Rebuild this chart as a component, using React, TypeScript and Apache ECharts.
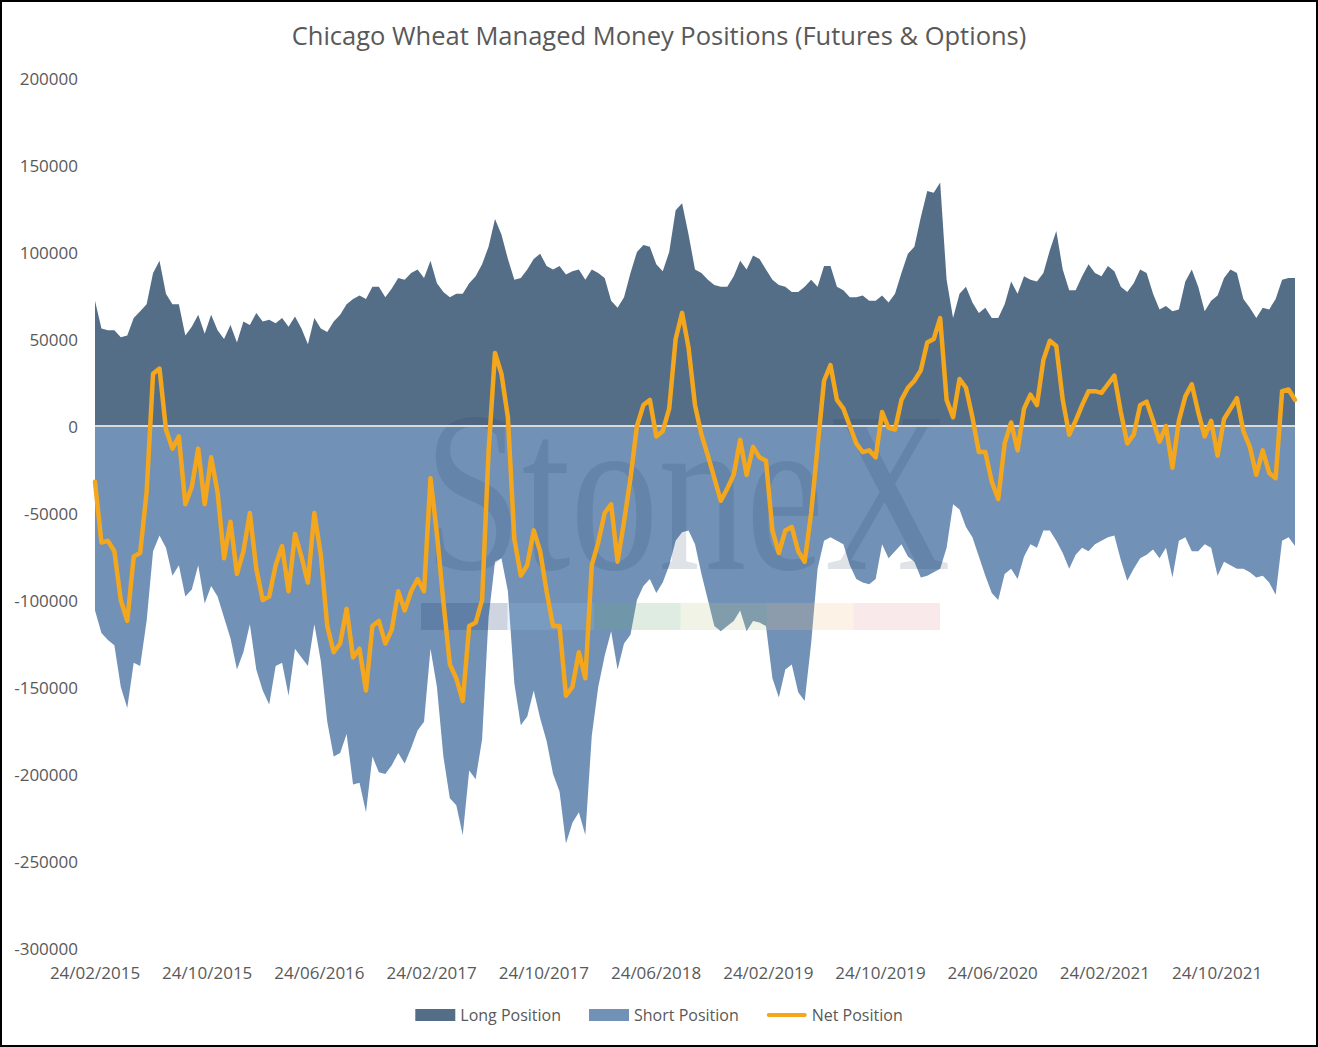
import { useEffect, useRef } from 'react'
import * as echarts from 'echarts'

// Weekly CFTC data sampled every two weeks from 24/02/2015, values in thousands of contracts
const TITLE = 'Chicago Wheat Managed Money Positions (Futures & Options)'
const seriesNames = ['Long Position', 'Short Position', 'Net Position']
const START_YEAR = 2015
const START_MONTH = 2 // February
const LABEL_DAY = '24'
const MONTHS_PER_POINT = 14 / 30.4375
const LABEL_EVERY_MONTHS = 8

const longK = [
  72, 56, 55, 55, 51, 52, 62, 66, 70, 88, 95, 76, 70, 70, 52, 57, 64, 53, 64, 55, 50, 58, 48,
  60, 58, 65, 60, 61, 59, 62, 57, 63, 56, 47, 62, 56, 54, 60, 64, 70, 73, 75, 73, 80, 80, 74, 79,
  85, 84, 88, 90, 85, 95, 82, 77, 74, 76, 76, 82, 86, 93, 103, 119, 110, 96, 84, 85, 90, 96, 99,
  92, 90, 92, 87, 89, 90, 84, 90, 88, 85, 72, 68, 74, 88, 100, 104, 103, 93, 89, 100, 124, 128, 110,
  90, 88, 84, 81, 80, 80, 86, 95, 90, 98, 96, 90, 84, 81, 80, 77, 77, 80, 84, 80, 92, 92, 80,
  78, 74, 74, 75, 72, 72, 75, 71, 76, 88, 99, 103, 120, 135, 134, 140, 84, 62, 76, 80, 71, 65, 68, 62,
  62, 70, 83, 76, 86, 84, 83, 88, 101, 112, 90, 78, 78, 86, 93, 88, 86, 92, 89, 80, 77, 82, 90,
  88, 76, 67, 69, 66, 67, 83, 90, 80, 66, 72, 75, 85, 90, 88, 73, 68, 62, 68, 67, 73, 84, 85, 85,
]

const shortK = [
  -106, -119, -123, -126, -150, -162, -136, -138, -112, -72, -63, -70, -86, -80, -98, -94, -80, -102, -92, -98, -110, -122, -140,
  -130, -114, -140, -152, -160, -138, -136, -155, -128, -133, -138, -114, -135, -170, -190, -188, -177, -206, -205, -222, -190, -199, -200, -195,
  -188, -194, -185, -175, -170, -128, -150, -190, -214, -218, -235, -198, -203, -180, -110, -78, -76, -95, -148, -172, -167, -152, -168,
  -181, -200, -210, -240, -228, -222, -235, -178, -150, -132, -118, -140, -125, -120, -100, -92, -88, -96, -90, -80, -66, -61, -60,
  -68, -85, -100, -115, -118, -115, -112, -106, -118, -112, -113, -115, -145, -156, -140, -137, -153, -158, -125, -82, -66, -64, -66,
  -68, -80, -88, -90, -91, -88, -68, -76, -72, -68, -75, -78, -87, -86, -84, -82, -70, -45, -48, -58, -64, -75, -86, -96,
  -100, -85, -82, -88, -75, -68, -70, -60, -60, -66, -73, -82, -74, -70, -72, -68, -66, -64, -63, -77, -89, -82, -76,
  -74, -71, -76, -70, -87, -66, -64, -72, -72, -68, -70, -86, -78, -80, -82, -82, -84, -87, -86, -90, -97, -66, -64, -69,
]

const netK = [
  -32, -67, -66, -72, -100, -112, -75, -73, -38, 30, 33, -2, -13, -6, -45, -35, -13, -45, -18, -38, -76, -55, -85,
  -72, -50, -82, -100, -98, -80, -69, -95, -62, -75, -90, -50, -74, -115, -130, -125, -105, -133, -128, -152, -115, -112, -125, -117,
  -95, -106, -95, -88, -95, -30, -62, -101, -137, -145, -158, -115, -113, -100, -15, 42, 30, 5, -65, -86, -80, -60, -72,
  -95, -115, -115, -155, -150, -130, -145, -80, -67, -50, -45, -78, -55, -30, 0, 12, 15, -6, -3, 10, 50, 65, 45,
  12, -5, -17, -30, -43, -36, -28, -8, -28, -12, -18, -20, -60, -73, -60, -58, -72, -78, -50, -12, 26, 35, 15,
  10, 0, -10, -15, -14, -18, 8, -1, -2, 15, 22, 26, 32, 48, 50, 62, 15, 5, 27, 22, 5, -15, -15, -32,
  -42, -10, 2, -14, 10, 18, 12, 38, 49, 46, 15, -5, 3, 12, 20, 20, 19, 24, 29, 8, -10, -5, 12,
  14, 3, -9, 0, -24, 3, 17, 24, 8, -6, 3, -17, 4, 10, 16, -3, -12, -28, -14, -27, -30, 20, 21, 15,
]

// faint StoneX watermark colour bar
const stripeColors = ['#1f3f70', '#9cbfe3', '#6aa77c', '#b9c98a', '#f2c58a', '#e79aa3']

const toPoints = (arr: number[]) => arr.map((v, i) => [i * MONTHS_PER_POINT, v * 1000])

const monthLabel = (m: number) => {
  const t = START_MONTH - 1 + Math.round(m)
  const year = START_YEAR + Math.floor(t / 12)
  const month = (t % 12) + 1
  return `${LABEL_DAY}/${month.toString().padStart(2, '0')}/${year}`
}

const FONT = '"Open Sans", "Noto Sans", sans-serif'
const TEXT = '#595959'
const NET_ICON = 'path://M2,0H38A2,2 0 0 1 38,4H2A2,2 0 0 1 2,0Z'

export default function App() {
  const ref = useRef<HTMLDivElement>(null)

  useEffect(() => {
    if (!ref.current) return
    const chart = echarts.init(ref.current, null, { renderer: 'svg' })
    const xMax = (longK.length - 1) * MONTHS_PER_POINT

    chart.setOption({
      animation: false,
      backgroundColor: '#ffffff',
      title: {
        text: TITLE,
        left: 'center',
        top: 17,
        textStyle: { color: TEXT, fontFamily: FONT, fontSize: 25.5, fontWeight: 'normal' },
      },
      grid: { left: 95, right: 23, top: 78, bottom: 99, containLabel: false },
      legend: {
        bottom: 19,
        left: 'center',
        itemWidth: 40,
        itemHeight: 12,
        itemGap: 28,
        textStyle: { color: TEXT, fontFamily: FONT, fontSize: 16 },
        data: [
          { name: seriesNames[0], icon: 'rect' },
          { name: seriesNames[1], icon: 'rect' },
          { name: seriesNames[2], icon: NET_ICON },
        ],
      },
      xAxis: {
        type: 'value',
        min: 0,
        max: xMax,
        interval: LABEL_EVERY_MONTHS,
        axisLine: { show: false, onZero: false },
        axisTick: { show: false },
        splitLine: { show: false },
        axisLabel: {
          color: TEXT,
          fontFamily: FONT,
          fontSize: 17,
          margin: 16,
          showMaxLabel: false,
          formatter: (v: number) => monthLabel(v),
        },
      },
      yAxis: {
        type: 'value',
        min: -300000,
        max: 200000,
        interval: 50000,
        axisLine: { show: false },
        axisTick: { show: false },
        splitLine: { show: false },
        axisLabel: {
          color: TEXT,
          fontFamily: FONT,
          fontSize: 17,
          margin: 17,
          formatter: (v: number) => String(v),
        },
      },
      series: [
        {
          name: seriesNames[0],
          type: 'line',
          data: toPoints(longK),
          symbol: 'none',
          lineStyle: { width: 0 },
          itemStyle: { color: '#546e88' },
          areaStyle: { color: '#546e88', opacity: 1 },
          z: 2,
        },
        {
          name: seriesNames[1],
          type: 'line',
          data: toPoints(shortK),
          symbol: 'none',
          lineStyle: { width: 0 },
          itemStyle: { color: '#7191b6' },
          areaStyle: { color: '#7191b6', opacity: 1 },
          z: 2,
          markLine: {
            silent: true,
            symbol: ['none', 'none'],
            label: { show: false },
            z: 5,
            lineStyle: { color: '#d9d9d9', type: 'solid', width: 2 },
            data: [{ yAxis: 0 }],
          },
        },
        {
          name: seriesNames[2],
          type: 'line',
          data: toPoints(netK),
          symbol: 'none',
          lineStyle: { color: '#f4a71d', width: 4.5, join: 'round', cap: 'round' },
          itemStyle: { color: '#f4a71d' },
          z: 6,
        },
      ],
      graphic: [
        {
          type: 'text',
          left: 424,
          top: 378,
          z: 3,
          silent: true,
          scaleX: 0.77,
          style: {
            text: 'StoneX',
            font: '228px "Liberation Serif", "DejaVu Serif", serif',
            fill: 'rgba(25, 55, 95, 0.14)',
          },
        },
        ...stripeColors.map((c, i) => ({
          type: 'rect',
          z: 3,
          silent: true,
          shape: { x: 421 + i * 86.5, y: 603, width: 86.5, height: 27 },
          style: { fill: c, opacity: 0.22 },
        })),
        {
          type: 'rect',
          z: 10,
          silent: true,
          shape: { x: 1, y: 1, width: 1316, height: 1045 },
          style: { fill: 'none', stroke: '#000000', lineWidth: 2 },
        },
      ],
    })

    const onResize = () => chart.resize()
    window.addEventListener('resize', onResize)
    return () => {
      window.removeEventListener('resize', onResize)
      chart.dispose()
    }
  }, [])

  return (
    <div
      ref={ref}
      style={{ position: 'absolute', left: 0, top: 0, width: 1318, height: 1047 }}
    />
  )
}
